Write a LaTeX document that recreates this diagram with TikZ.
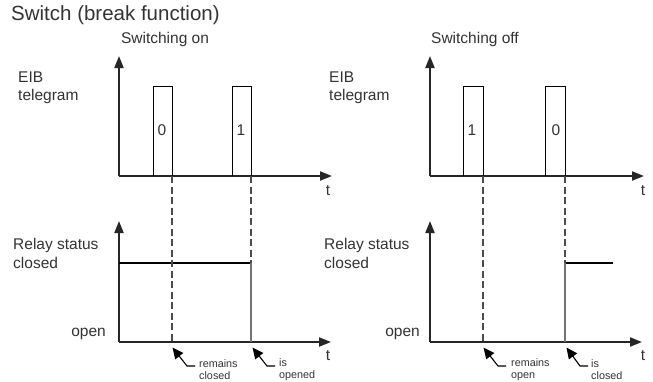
\documentclass[tikz,border=0pt]{standalone}
\usepackage{fontspec}
\setmainfont{Liberation Sans}
\usetikzlibrary{arrows.meta}
\begin{document}
\begin{tikzpicture}[x=1pt,y=-1pt,
  axis/.style={line width=2pt,draw=black!85,-{Triangle[length=12pt,width=9pt]}},
  pulse/.style={line width=1pt,draw=black},
  level/.style={line width=1.1pt,draw=black},
  edge/.style={line width=1.5pt,draw=black!55},
  marker/.style={dashed,dash pattern=on 7pt off 3.5pt,line width=1.1pt,draw=black!70},
  pointer/.style={line width=1.1pt,{Triangle[length=11pt,width=10pt]}-},
  txt/.style={inner sep=0pt,font=\fontsize{15.5}{18.5}\selectfont,text=black!80},
  small/.style={inner sep=0pt,font=\fontsize{10.8}{11.8}\selectfont,text=black!80,align=left,anchor=west},
  big/.style={inner sep=0pt,font=\fontsize{20.5}{24}\selectfont,text=black!80}]
\useasboundingbox (0,0) rectangle (653,381);

\node[big,anchor=west] (title) at (11,15) {Switch (break function)};

% ---------- left: switching on ----------
\node[txt] (hon) at (165,39) {Switching on};
\node[txt,anchor=west,align=left] (eibL) at (18,88) {EIB\\telegram};
\coordinate (oL1) at (119,176);
\coordinate (yL1) at (119,56);
\coordinate (xL1) at (332,176);
\draw[axis] (oL1) -- (yL1);
\draw[axis] (oL1) -- (xL1);
\node[txt] (tL1) at (328,191) {t};
\coordinate (pa1) at (153,176); \coordinate (pa2) at (153,86);
\coordinate (pa3) at (172,86); \coordinate (pa4) at (172,176);
\draw[pulse] (pa1) -- (pa2) -- (pa3) -- (pa4);
\node[txt] (zL) at (162,130) {0};
\coordinate (pb1) at (232,176); \coordinate (pb2) at (232,86);
\coordinate (pb3) at (251,86); \coordinate (pb4) at (251,176);
\draw[pulse] (pb1) -- (pb2) -- (pb3) -- (pb4);
\node[txt] (oneL) at (241,130) {1};

\coordinate (oL2) at (119,342);
\coordinate (yL2) at (119,221);
\coordinate (xL2) at (331,342);
\draw[axis] (oL2) -- (yL2);
\draw[axis] (oL2) -- (xL2);
\node[txt] (tL2) at (328,356) {t};
\node[txt,anchor=west,align=left] (rsL) at (13,253.5) {Relay status\\closed};
\node[txt,anchor=east] (opL) at (106,334) {open};
\coordinate (cL1) at (119,263); \coordinate (cL2) at (251,263);
\draw[level] (cL1) -- (cL2);
\coordinate (dL1b) at (172,342); \coordinate (dL2b) at (251,263);
\coordinate (dL2e) at (251,342);
\draw[marker] (pa4) -- (dL1b);
\draw[marker] (pb4) -- (dL2b);
\draw[edge] (dL2b) -- (dL2e);

\coordinate (aL1t) at (172.5,347.5); \coordinate (aL1b) at (187,366); \coordinate (aL1e) at (195,366);
\draw[pointer] (aL1t) -- (aL1b) -- (aL1e);
\node[small] (lbL1) at (199,370) {remains\\closed};
\coordinate (aL2t) at (252.5,347.5); \coordinate (aL2b) at (267,366); \coordinate (aL2e) at (275,366);
\draw[pointer] (aL2t) -- (aL2b) -- (aL2e);
\node[small] (lbL2) at (279,370) {is\\opened};

% ---------- right: switching off ----------
\node[txt] (hoff) at (475,39) {Switching off};
\node[txt,anchor=west,align=left] (eibR) at (329,88) {EIB\\telegram};
\coordinate (oR1) at (430,176);
\coordinate (yR1) at (430,56);
\coordinate (xR1) at (644,176);
\draw[axis] (oR1) -- (yR1);
\draw[axis] (oR1) -- (xR1);
\node[txt] (tR1) at (643,191) {t};
\coordinate (pc1) at (463,176); \coordinate (pc2) at (463,86);
\coordinate (pc3) at (483,86); \coordinate (pc4) at (483,176);
\draw[pulse] (pc1) -- (pc2) -- (pc3) -- (pc4);
\node[txt] (oneR) at (472,130) {1};
\coordinate (pd1) at (545,176); \coordinate (pd2) at (545,86);
\coordinate (pd3) at (565,86); \coordinate (pd4) at (565,176);
\draw[pulse] (pd1) -- (pd2) -- (pd3) -- (pd4);
\node[txt] (zR) at (556,130) {0};

\coordinate (oR2) at (430,342);
\coordinate (yR2) at (430,221);
\coordinate (xR2) at (642,342);
\draw[axis] (oR2) -- (yR2);
\draw[axis] (oR2) -- (xR2);
\node[txt] (tR2) at (643,356) {t};
\node[txt,anchor=west,align=left] (rsR) at (324,253.5) {Relay status\\closed};
\node[txt,anchor=east] (opR) at (420,334) {open};
\coordinate (cR1) at (565,263); \coordinate (cR2) at (613,263);
\draw[level] (cR1) -- (cR2);
\coordinate (dR1b) at (483,342); \coordinate (dR2e) at (565,342);
\draw[marker] (pc4) -- (dR1b);
\draw[marker] (pd4) -- (cR1);
\draw[edge] (cR1) -- (dR2e);

\coordinate (aR1t) at (483.5,347.5); \coordinate (aR1b) at (498,366); \coordinate (aR1e) at (506,366);
\draw[pointer] (aR1t) -- (aR1b) -- (aR1e);
\node[small] (lbR1) at (511,370) {remains\\open};
\coordinate (aR2t) at (566.5,347.5); \coordinate (aR2b) at (580,366); \coordinate (aR2e) at (588,366);
\draw[pointer] (aR2t) -- (aR2b) -- (aR2e);
\node[small] (lbR2) at (591,370) {is\\closed};
\end{tikzpicture}
\end{document}
